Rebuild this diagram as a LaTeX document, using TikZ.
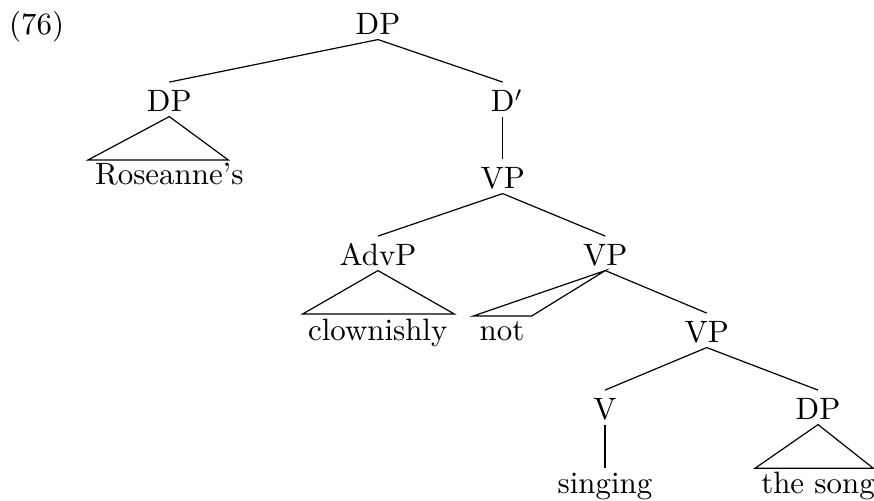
\documentclass[tikz,border=0pt]{standalone}
\begin{document}
\begin{tikzpicture}[x=0.33333pt,y=-0.33333pt,
  font=\fontsize{10.3}{12}\selectfont,
  cat/.style={inner sep=0pt, text height=9.77pt, text depth=1.33pt, anchor=base},
  leaf/.style={inner sep=0pt, text height=8.33pt, text depth=0pt, anchor=base},
  edge/.style={line width=0.4pt}]
\useasboundingbox (0,0) rectangle (874,501);
\node[anchor=base] (ex) at (36.7,35) {(76)};
\node[cat] (dp0) at (378,35) {DP};
\node[cat] (dp1) at (169.3,112) {DP};
\node[cat] (dbar) at (502.7,112) {D\rlap{$'$}};
\node[cat] (vp1) at (502.7,189) {VP};
\node[cat] (advp) at (378,266) {AdvP};
\node[cat] (vp2) at (605.3,266) {VP};
\node[cat] (vp3) at (706.7,343) {VP};
\node[cat] (v) at (605,420) {V};
\node[cat] (dp2) at (818,420) {DP};
\node[leaf] (ros) at (169.3,185) {Roseanne's};
\node[leaf] (clown) at (377.7,341) {clownishly};
\node[leaf] (not) at (502,341) {not};
\node[leaf] (sing) at (605,494) {singing};
\node[leaf] (song) at (818,493.3) {the song};
\coordinate (rosL) at (88,160);
\coordinate (rosR) at (228.3,160);
\coordinate (clL) at (302.7,314);
\coordinate (clR) at (454.3,314);
\coordinate (notL) at (473.3,316);
\coordinate (notR) at (531.7,316);
\coordinate (songL) at (755,468.3);
\coordinate (songR) at (873.3,468.3);
\draw[edge] (dp0.south) -- (dp1.north);
\draw[edge] (dp0.south) -- (dbar.north);
\draw[edge] (dbar.south) -- (vp1.north);
\draw[edge] (vp1.south) -- (advp.north);
\draw[edge] (vp1.south) -- (vp2.north);
\draw[edge] (vp2.south) -- (vp3.north);
\draw[edge] (vp3.south) -- (v.north);
\draw[edge] (vp3.south) -- (dp2.north);
\draw[edge] (v.south) -- (sing.north);
\draw[edge] (dp1.south) -- (rosL) -- (rosR) -- cycle;
\draw[edge] (advp.south) -- (clL) -- (clR) -- cycle;
\draw[edge] (vp2.south) -- (notL) -- (notR) -- cycle;
\draw[edge] (dp2.south) -- (songL) -- (songR) -- cycle;
\end{tikzpicture}
\end{document}
